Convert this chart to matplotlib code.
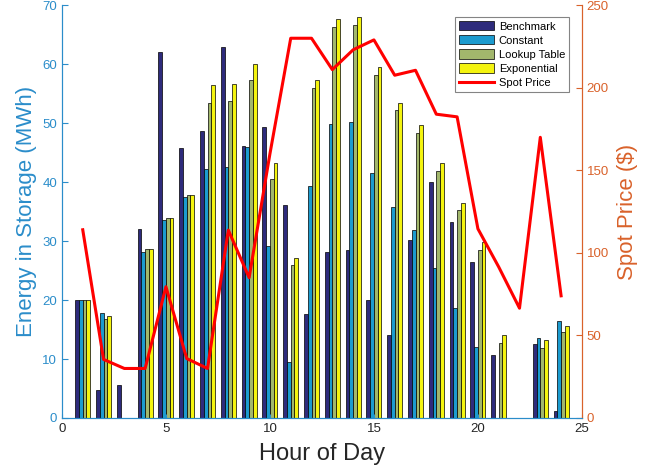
import numpy as np
import matplotlib
matplotlib.use('Agg')
import matplotlib.pyplot as plt

plt.rcParams['font.family'] = ['Liberation Sans', 'DejaVu Sans']

# Data
hours = list(range(1, 25))
benchmark = [20, 4.7, 5.6, 32, 62, 45.8, 48.6, 62.9, 46.2, 49.4, 36.2, 17.7,
             28.1, 28.5, 20, 14, 30.2, 40, 33.2, 26.5, 10.7, 0, 12.6, 1.2]
constant = [20, 17.8, 0, 28.2, 33.5, 37.5, 42.2, 42.6, 46, 29.2, 9.5, 39.4,
            49.9, 50.2, 41.6, 35.7, 31.9, 25.5, 18.7, 12, 0, 0, 13.5, 16.5]
lookup = [20, 16.8, 0, 28.6, 33.9, 37.8, 53.5, 53.8, 57.3, 40.5, 25.9, 55.9,
          66.3, 66.7, 58.1, 52.2, 48.3, 41.9, 35.2, 28.5, 12.8, 0, 11.8, 14.6]
exponential = [20, 17.3, 0, 28.7, 33.9, 37.8, 56.4, 56.7, 60.1, 43.3, 27.2, 57.3,
               67.6, 68, 59.5, 53.5, 49.7, 43.3, 36.5, 29.9, 14.1, 0, 13.2, 15.6]
spot_price = [114, 35.5, 30, 30, 79.5, 36, 30, 113.8, 85, 160, 230, 230,
              211, 223, 229, 207.6, 210.6, 184, 182.4, 114.6, 91.5, 66.5, 170, 74]

series = [benchmark, constant, lookup, exponential]
names = ['Benchmark', 'Constant', 'Lookup Table', 'Exponential']
colors = ['#2e2b7c', '#1c9bcf', '#a2b76c', '#f4f40f']

left_col = '#2b8dca'
right_col = '#d9622b'

fig = plt.figure(figsize=(6.59, 4.75), dpi=100)
ax = fig.add_axes([0.094, 0.12, 0.789, 0.869])
ax2 = ax.twinx()

x = np.array(hours)
w = 0.18
handles = []
for i, (vals, name, c) in enumerate(zip(series, names, colors)):
    b = ax.bar(x + (i - 1.5) * w, vals, width=w, color=c, edgecolor='black',
               linewidth=0.5, label=name)
    handles.append(b)

line, = ax2.plot(hours, spot_price, color='#ff0000', linewidth=2.2, label='Spot Price')
handles.append(line)

ax.set_xlim(0, 25)
ax.set_ylim(0, 70)
ax2.set_ylim(0, 250)
ax.set_xticks([0, 5, 10, 15, 20, 25])
ax.set_yticks(range(0, 71, 10))
ax2.set_yticks(range(0, 251, 50))

ax.set_xlabel('Hour of Day', fontsize=17, color='#262626', labelpad=6)
ax.set_ylabel('Energy in Storage (MWh)', fontsize=16, color=left_col, labelpad=4)
ax2.set_ylabel('Spot Price ($)', fontsize=16, color=right_col, labelpad=6)

ax.tick_params(axis='x', direction='in', labelsize=9.5, colors='#262626', length=3)
ax.tick_params(axis='y', direction='in', labelsize=9.5, colors=left_col, length=4)
ax2.tick_params(axis='y', direction='in', labelsize=9.5, colors=right_col, length=4)
ax.tick_params(axis='x', colors=left_col, labelcolor='#262626')

for a in (ax, ax2):
    a.spines['top'].set_visible(False)
    a.spines['left'].set_color(left_col)
    a.spines['bottom'].set_color(left_col)
    a.spines['right'].set_color(right_col)
    for s in a.spines.values():
        s.set_linewidth(0.8)

leg = ax2.legend(handles=handles, loc='upper right', bbox_to_anchor=(0.975, 0.971),
                 borderaxespad=0, fontsize=8, frameon=True, fancybox=False,
                 edgecolor='#666666', handlelength=3.2, handleheight=0.9,
                 borderpad=0.35, labelspacing=0.33, handletextpad=0.4)
leg.get_frame().set_linewidth(0.8)

plt.savefig('out.png', dpi=100, facecolor='white')
plt.close()
